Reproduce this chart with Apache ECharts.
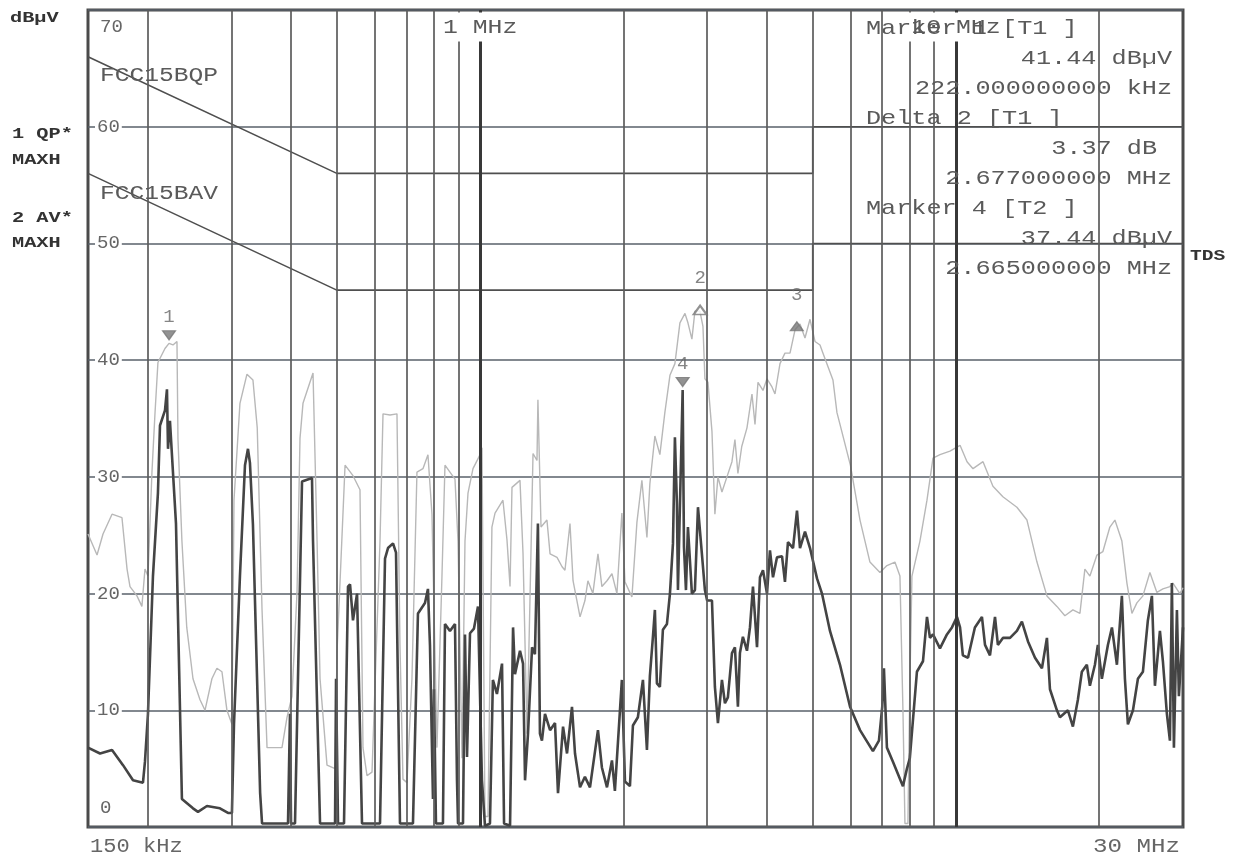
<!DOCTYPE html>
<html>
<head>
<meta charset="utf-8">
<script src="https://cdn.jsdelivr.net/npm/echarts@6/dist/echarts.min.js"></script>
<style>
html,body{margin:0;padding:0;background:#fff;}
#chart{width:1238px;height:860px;}
</style>
</head>
<body>
<div id="chart"></div>
<script>
// ---------- data (frequency in MHz, level in dBµV) ----------
const qpFreq = [0.150,0.1567,0.1613,0.1685,0.1768,0.1812,0.1838,0.1901,0.1947,0.1976,0.2005,0.2044,0.2074,0.2104,0.2177,0.222,0.2263,0.2307,0.2318,0.2363,0.2419,0.2493,0.2579,0.2642,0.2732,0.2799,0.2868,0.2938,0.3010,0.3040,0.3129,0.3237,0.3332,0.3402,0.3482,0.3567,0.3835,0.3929,0.4025,0.4124,0.4184,0.4245,0.4456,0.4544,0.4610,0.4768,0.4957,0.5005,0.5203,0.5407,0.5593,0.5675,0.5786,0.5928,0.6162,0.6252,0.6467,0.6689,0.6787,0.6886,0.7020,0.7192,0.7368,0.7585,0.7771,0.7923,0.8117,0.8316,0.8438,0.8644,0.8857,0.8987,0.9163,0.9296,0.9432,0.9663,1.0,1.0092,1.024,1.039,1.059,1.075,1.117,1.139,1.156,1.167,1.213,1.231,1.255,1.273,1.292,1.317,1.323,1.343,1.382,1.403,1.451,1.487,1.508,1.545,1.568,1.622,1.661,1.685,1.726,1.769,1.803,1.848,1.893,1.939,1.986,2.016,2.085,2.136,2.188,2.242,2.274,2.330,2.387,2.445,2.506,2.567,2.630,2.695,2.734,2.787,2.828,2.897,2.940,2.968,3.012,3.071,3.115,3.161,3.223,3.302,3.383,3.432,3.482,3.547,3.638,3.727,3.782,3.837,3.931,4.008,4.106,4.166,4.268,4.372,4.480,4.590,4.702,4.817,4.935,5.056,5.180,5.255,5.515,5.623,5.706,6.0,6.286,6.596,6.923,7.161,7.443,7.626,7.738,7.813,7.927,8.0,8.082,8.401,8.692,8.948,9.256,9.714,10.20,10.55,10.86,11.40,11.96,12.55,13.43,14.10,14.80,15.53,16.30,16.94,17.61,18.22,18.66,19.12,19.78,20.36,21.06,21.58,22.32,22.87,23.43,24.00,24.71,25.56,26.44,27.22,28.16,28.57,29.55,30];
const qpLevel = [25.1,23.3,25.1,26.8,26.5,22.1,20.6,19.8,18.9,22.1,21.5,30.4,35.4,39.8,41,41.44,41.3,41.6,33.3,24.5,17.1,12.7,10.9,10,12.7,13.6,13.3,10,8.8,28,36.3,38.8,38.3,34.2,18.6,6.8,6.8,9.4,11.2,20.1,33.3,36.3,38.9,24.5,12.7,5.3,5.0,15,31,30.1,28.9,6.8,4.4,4.7,24.5,35.4,35.3,35.4,15.6,4.1,3.8,12.7,30.4,30.7,31.9,26.8,6.8,21.5,31,30.4,29.8,24.5,5.9,24.5,28.6,30.7,31.9,32.5,0.9,0.9,25.7,26.9,28,24.6,20.6,29.1,29.7,23.4,8,19.4,32,31.4,36.6,25.7,26.3,23.4,23.1,22.3,22,26,21.1,18,19.4,21.1,20,23.4,20.6,21.1,21.7,20,26.9,21,19.7,26.1,29.7,24.8,29.4,33.5,31.9,35.5,38.7,39.7,43.2,44,43.2,41.8,44.2,44.2,42.9,38.4,38.1,33.9,26.8,30,28.7,30,31.3,33.2,30.3,32.6,34.2,37.1,34.5,38.1,37.4,38.4,37.7,37.1,39.7,40.6,40.6,42.6,43.1,41.9,43.5,41.6,41.3,40.6,38.3,35.5,34.5,31,26.3,22.7,21.8,22.4,22.7,21.5,10,0.3,0.3,12,21.5,24.5,28,31.6,31.9,32.2,32.7,31.3,30.7,31.3,29.2,28.3,27.4,26.3,22.7,19.8,18.9,18.1,18.6,18.3,22.1,21.5,23.3,23.6,25.7,26.3,24.5,20.9,18.3,19.2,19.8,21.8,20.1,20.4,20.6,20.9,20,20.5];

const avFreq = [0.150,0.159,0.1685,0.1777,0.1865,0.1957,0.1976,0.2005,0.2054,0.2104,0.2125,0.2177,0.2198,0.2209,0.2230,0.2296,0.2363,0.2493,0.2554,0.2667,0.2840,0.2953,0.3010,0.3040,0.3129,0.3206,0.3253,0.3284,0.3332,0.3450,0.3482,0.3948,0.3986,0.4006,0.4084,0.4225,0.4434,0.4456,0.4610,0.4957,0.4981,0.5029,0.5177,0.5278,0.5330,0.5407,0.5514,0.5648,0.6162,0.6313,0.6405,0.6562,0.6658,0.6787,0.7227,0.7404,0.7659,0.7771,0.7847,0.7962,0.8000,0.8078,0.8356,0.8438,0.8644,0.8857,0.8943,0.8987,0.9207,0.9296,0.9387,0.9524,0.9709,0.9899,1.0092,1.024,1.049,1.064,1.085,1.112,1.123,1.156,1.173,1.184,1.213,1.231,1.243,1.261,1.286,1.304,1.323,1.336,1.349,1.369,1.403,1.437,1.458,1.494,1.523,1.560,1.583,1.622,1.661,1.702,1.769,1.803,1.848,1.893,1.920,1.986,2.016,2.065,2.095,2.146,2.199,2.242,2.274,2.308,2.330,2.353,2.387,2.422,2.470,2.506,2.543,2.567,2.592,2.605,2.630,2.665,2.682,2.708,2.734,2.787,2.828,2.870,2.925,2.968,3.000,3.071,3.115,3.161,3.223,3.270,3.317,3.383,3.432,3.482,3.516,3.567,3.638,3.691,3.745,3.819,3.874,3.931,4.008,4.066,4.126,4.206,4.310,4.372,4.436,4.546,4.634,4.702,4.817,4.935,5.105,5.230,5.436,5.706,5.99,6.286,6.692,6.889,7.0,7.058,7.161,7.372,7.738,7.889,8.0,8.279,8.525,8.692,8.819,8.948,9.256,9.574,9.808,10.05,10.20,10.34,10.60,10.96,11.34,11.51,11.79,12.08,12.25,12.55,12.99,13.43,13.76,14.17,14.66,15.16,15.53,15.76,16.30,16.54,17.19,17.61,18.04,18.39,18.84,19.12,19.59,19.87,20.26,20.86,21.27,21.79,22.32,22.65,22.98,23.55,24.12,24.71,25.31,25.81,26.19,26.83,27.22,27.75,28.16,28.43,28.71,29.13,29.41,30];
const avLevel = [6.8,6.3,6.6,5.3,4.0,3.8,5.6,9.7,21.5,28.6,34.4,35.7,37.5,32.4,34.8,26,2.4,1.6,1.3,1.8,1.6,1.2,1.2,8.8,21.5,31,32.4,31.2,25.9,2.9,0.3,0.3,9.7,0.3,0.3,29.6,29.9,24.5,0.3,0.3,12.7,0.3,0.3,20.6,20.8,17.7,20,0.3,0.3,23,23.9,24.3,23.5,0.3,0.3,18.3,19.2,20.4,15.6,2.4,11.8,0.3,0.3,17.4,16.8,17.4,4,0.3,0.3,16.5,6,16.6,17,18.9,4.0,0.1,0.3,12.6,11.4,14.0,0.3,0.1,17.1,13.1,15.1,14,4,8,15.4,14.8,26,8,7.4,9.7,8.3,8.9,2.9,8.6,6.3,10.3,6.3,3.4,4.3,3.4,8.3,5.1,3.4,5.7,3.1,12.6,3.9,3.5,8.7,9.4,12.6,6.6,12.9,16.3,18.6,12.3,12,16.9,17.4,20,24.3,33.4,27.7,20.3,20.3,37.44,24,20.3,25.7,20,20.3,27.4,23.4,20.3,19.4,19.4,12,8.9,12.6,10.6,11.1,14.9,15.4,10.3,14.9,16.3,15.1,17.1,20.6,15.4,21.4,22,20,23.7,21.4,23.1,23.2,21,24.4,23.9,27.1,23.9,25.3,23.9,21.3,20,16.8,13.9,10.3,8.3,6.5,7.4,10.3,13.6,6.8,5.6,3.5,5.0,5.9,13.3,14.2,18,16.2,16.5,15.3,16.5,17.1,18,17.1,14.7,14.5,17.1,18,15.6,14.7,18,15.6,16.2,16.2,16.8,17.6,15.9,14.5,13.6,16.2,11.8,10,9.4,10,8.6,10.9,13.3,13.9,12.1,13.9,15.6,12.7,15.6,17.1,13.9,19.8,12.7,8.8,10,12.7,13.3,17.7,19.8,12.1,16.8,14.2,9.7,7.4,20.9,6.8,18.6,11.2,17.1];

const qpLimitFreq = [0.15, 0.5, 5, 5, 30];
const qpLimitLevel = [66, 56, 56, 60, 60];
const avLimitFreq = [0.15, 0.5, 5, 5, 30];
const avLimitLevel = [56, 46, 46, 50, 50];

const gridFreqs = [0.2,0.3,0.4,0.5,0.6,0.7,0.8,0.9,1,2,3,4,5,6,7,8,9,10,20];
const majorFreqs = [1, 10];
const majorLabels = ['1 MHz', '10 MHz'];
const xMin = 0.15, xMax = 30;
const xEdgeLabels = ['150 kHz', '30 MHz'];
const yMin = 0, yMax = 70, yStep = 10;

const markerNames = ['1', '2', '3', '4'];
const markerFreq = [0.222, 2.9, 4.63, 2.665];
const markerLevel = [41.44, 44.81, 42.9, 37.44];

const readoutLines = ['Marker 1 [T1 ]', '41.44 dBµV', '222.000000000 kHz', 'Delta 2 [T1 ]', '3.37 dB', '2.677000000 MHz', 'Marker 4 [T2 ]', '37.44 dBµV', '2.665000000 MHz'];
const limitNames = ['FCC15BQP', 'FCC15BAV'];
const traceLabels = ['1 QP*', 'MAXH', '2 AV*', 'MAXH'];
const unitLabel = 'dBµV';
const sideLabel = 'TDS';

// ---------- chart ----------
const MONO = '"Liberation Mono","DejaVu Sans Mono",monospace';
const pairs = (xs, ys) => xs.map((x, i) => [x, ys[i]]);

const chart = echarts.init(document.getElementById('chart'), null, {renderer: 'canvas'});

const markerStyle = [
  {symbol: 'triangle', rot: 180, off: [0, -8], dist: 4},
  {symbol: 'emptyTriangle', rot: 0, off: [0, 6], dist: 17},
  {symbol: 'triangle', rot: 0, off: [0, 0], dist: 17},
  {symbol: 'triangle', rot: 180, off: [0, -8], dist: 4}
];

const option = {
  animation: false,
  backgroundColor: '#ffffff',
  grid: {left: 88, right: 55, top: 10, bottom: 33, show: true, borderColor: '#4a4a4a', borderWidth: 3, backgroundColor: 'transparent'},
  xAxis: {
    type: 'log', logBase: 10, min: xMin, max: xMax,
    axisLine: {show: false}, axisTick: {show: false}, axisLabel: {show: false}, splitLine: {show: false}
  },
  yAxis: {
    type: 'value', min: yMin, max: yMax, interval: yStep,
    axisLine: {show: false}, axisTick: {show: false},
    splitLine: {show: true, lineStyle: {color: '#59606a', width: 1.6}},
    axisLabel: {
      inside: true, margin: 7, color: '#666', fontFamily: MONO, fontSize: 19,
      formatter: v => v === yMax ? '{t|' + v + '}' : (v === yMin ? '{b|' + v + '}' : '{m|' + v + '}'),
      rich: {
        t: {fontFamily: MONO, fontSize: 19, color: '#666', padding: [34, 0, 0, 5]},
        b: {fontFamily: MONO, fontSize: 19, color: '#666', padding: [0, 0, 38, 5]},
        m: {fontFamily: MONO, fontSize: 19, color: '#666', backgroundColor: '#fff', padding: [0, 2, 0, 2]}
      }
    }
  },
  series: [
    {
      name: 'QP limit', type: 'line', z: 2, silent: true, showSymbol: false, symbol: 'none',
      data: pairs(qpLimitFreq, qpLimitLevel),
      lineStyle: {color: '#4f4f4f', width: 1.6},
      markLine: {
        silent: true, symbol: ['none', 'none'], animation: false, label: {show: false},
        lineStyle: {color: '#5c5c5c', width: 1.7, type: 'solid'},
        data: gridFreqs.map(f => majorFreqs.includes(f)
          ? {xAxis: f, lineStyle: {color: '#383838', width: 3, type: 'solid'}}
          : {xAxis: f})
      }
    },
    {
      name: 'AV limit', type: 'line', z: 2, silent: true, showSymbol: false, symbol: 'none',
      data: pairs(avLimitFreq, avLimitLevel),
      lineStyle: {color: '#4f4f4f', width: 1.6}
    },
    {
      name: '1 QP', type: 'line', z: 3, silent: true, showSymbol: false, symbol: 'none',
      data: pairs(qpFreq, qpLevel),
      lineStyle: {color: '#b8b8b8', width: 1.4}
    },
    {
      name: '2 AV', type: 'line', z: 4, silent: true, showSymbol: false, symbol: 'none',
      data: pairs(avFreq, avLevel),
      lineStyle: {color: '#444444', width: 2.6}
    },
    {
      name: 'markers', type: 'scatter', z: 6, silent: true,
      data: markerNames.map((n, i) => ({
        name: n, value: [markerFreq[i], markerLevel[i]],
        symbol: markerStyle[i].symbol, symbolRotate: markerStyle[i].rot, symbolOffset: markerStyle[i].off,
        label: {distance: markerStyle[i].dist}
      })),
      symbolSize: [13, 9],
      itemStyle: {color: '#777', borderColor: '#777', borderWidth: 1.2},
      label: {show: true, position: 'top', formatter: p => p.name, fontFamily: MONO, fontSize: 19, color: '#666'}
    }
  ]
};
chart.setOption(option);

// ---------- text layer ----------
function txt(x, y, text, o) {
  return {
    type: 'text', x: x, y: y, z: o.z || 100, silent: true, scaleX: o.sx || 1,
    style: {
      text: text, font: o.font, fill: o.fill, align: o.align || 'left', verticalAlign: 'middle',
      backgroundColor: o.bg || null, padding: o.pad || 0
    }
  };
}
const mainFont = 'normal 21px ' + MONO;
const boldFont = 'bold 14px ' + MONO;
const g = [];

// frequency decade labels with white boxes
majorFreqs.forEach((f, i) => {
  const px = chart.convertToPixel({xAxisIndex: 0}, f);
  g.push(txt(px, 27, majorLabels[i], {font: mainFont, fill: '#5a5a5a', align: 'center', sx: 1.18, bg: '#fff', pad: [3, 3, 5, 3], z: 100}));
});

// marker readout block
readoutLines.forEach((s, i) => {
  const y = 28 + i * 30;
  const header = (i % 3 === 0);
  let x = header ? 866 : 1172;
  if (i === 4) x = 1157;
  g.push(txt(x, y, s, {font: mainFont, fill: '#5a5a5a', align: header ? 'left' : 'right', sx: 1.2, z: 110}));
});

// limit names
g.push(txt(100, 75, limitNames[0], {font: mainFont, fill: '#5a5a5a', sx: 1.17}));
g.push(txt(100, 193, limitNames[1], {font: mainFont, fill: '#5a5a5a', sx: 1.17}));

// left side labels
g.push(txt(10, 18, unitLabel, {font: boldFont, fill: '#333', sx: 1.45}));
[134, 160, 218, 243].forEach((y, i) => g.push(txt(12, y, traceLabels[i], {font: boldFont, fill: '#333', sx: 1.45})));
g.push(txt(1190, 256, sideLabel, {font: boldFont, fill: '#333', sx: 1.4}));

// bottom edge labels
const pxMin = chart.convertToPixel({xAxisIndex: 0}, xMin);
const pxMax = chart.convertToPixel({xAxisIndex: 0}, xMax);
g.push(txt(pxMin + 2, 846, xEdgeLabels[0], {font: mainFont, fill: '#666', sx: 1.05}));
g.push(txt(pxMax - 3, 846, xEdgeLabels[1], {font: mainFont, fill: '#666', align: 'right', sx: 1.15}));

chart.setOption({graphic: g});
</script>
</body>
</html>
